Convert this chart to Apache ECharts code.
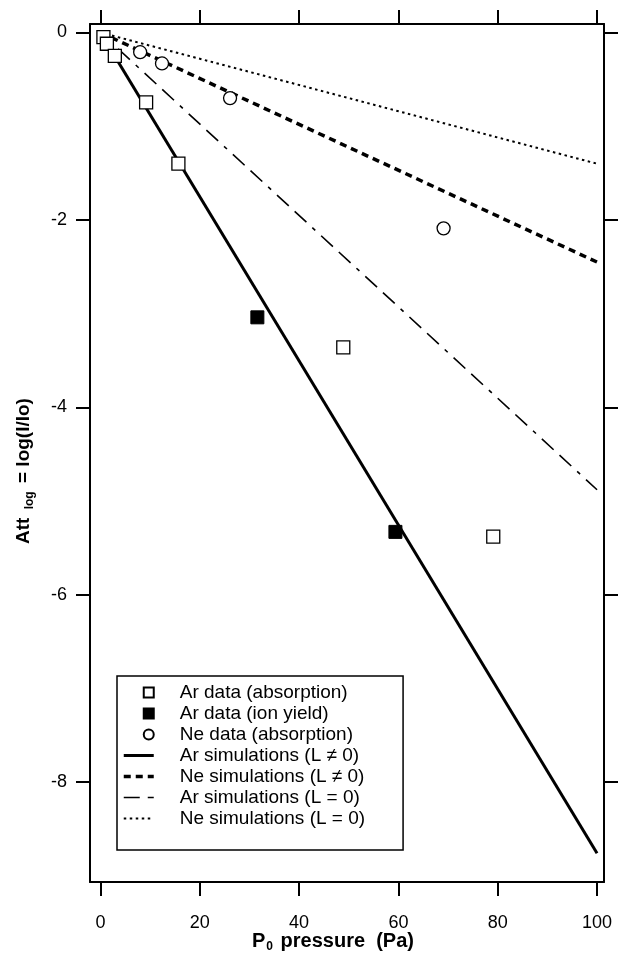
<!DOCTYPE html>
<html>
<head>
<meta charset="utf-8">
<script src="https://cdn.jsdelivr.net/npm/echarts@6/dist/echarts.min.js"></script>
<style>html,body{margin:0;padding:0;background:#fff}#c{width:621px;height:954px}</style>
</head>
<body>
<div id="c"></div>
<script>
// ---- data ----
const xTicks = [0, 20, 40, 60, 80, 100];
const yTicks = [0, -2, -4, -6, -8];

const arAbsX = [0.6, 1.3, 2.9, 9.2, 15.7, 48.9, 79.1];
const arAbsY = [-0.05, -0.12, -0.25, -0.745, -1.40, -3.36, -5.38];

const arIonX = [31.6, 59.4];
const arIonY = [-3.04, -5.33];

const neAbsX = [8.0, 12.4, 26.1, 69.1];
const neAbsY = [-0.21, -0.33, -0.70, -2.09];

const simX = [0, 100];
const arSimL = [0, -8.76];
const neSimL = [0, -2.45];
const arSim0 = [0, -4.88];
const neSim0 = [0, -1.40];

const names = [
  'Ar data (absorption)',
  'Ar data (ion yield)',
  'Ne data (absorption)',
  'Ar simulations (L \u2260 0)',
  'Ne simulations (L \u2260 0)',
  'Ar simulations (L = 0)',
  'Ne simulations (L = 0)'
];

const zip = (xs, ys) => xs.map((x, i) => [x, ys[i]]);
const FONT = 'Liberation Sans';

const chart = echarts.init(document.getElementById('c'), null, {renderer: 'canvas'});

const sqIcon = 'path://M0,5M20,0L30,0L30,10L20,10Z';
const circIcon = 'path://M0,5M20,5a5,5 0 1,0 10,0a5,5 0 1,0 -10,0Z';
const hideSym = {opacity: 0};

const axisCommon = {
  type: 'value',
  splitLine: {show: false},
  axisLine: {show: true, onZero: false, lineStyle: {color: '#000', width: 2}},
  axisTick: {show: true, inside: false, length: 14, lineStyle: {color: '#000', width: 2}},
};

chart.setOption({
  animation: false,
  backgroundColor: '#fff',
  textStyle: {fontFamily: FONT, color: '#000'},
  grid: {left: 90, right: 17, top: 24, bottom: 72, containLabel: false, outerBoundsMode: 'none'},
  legend: {
    orient: 'vertical',
    left: 117,
    top: 676,
    padding: [7, 38, 22, 5],
    itemGap: 2,
    itemWidth: 30,
    itemHeight: 10,
    borderColor: '#000',
    borderWidth: 1.5,
    backgroundColor: '#fff',
    lineStyle: {width: 'inherit'},
    textStyle: {fontFamily: FONT, fontSize: 19, color: '#000', padding: [0, 0, 0, 21], lineHeight: 18.4},
    data: [
      {name: names[0], icon: sqIcon},
      {name: names[1], icon: sqIcon},
      {name: names[2], icon: circIcon},
      {name: names[3], itemStyle: hideSym},
      {name: names[4], itemStyle: hideSym},
      {name: names[5], itemStyle: hideSym},
      {name: names[6], itemStyle: hideSym}
    ]
  },
  xAxis: [
    Object.assign({}, axisCommon, {
      position: 'bottom', min: -2.1, max: 101.4,
      axisTick: Object.assign({}, axisCommon.axisTick, {customValues: xTicks}),
      axisLabel: {customValues: xTicks, fontFamily: FONT, fontSize: 18, color: '#000', margin: 32},
      name: 'P{sub|0} pressure  (Pa)',
      nameLocation: 'middle', nameGap: 47, nameMoveOverlap: false,
      nameTextStyle: {fontFamily: FONT, fontSize: 20, fontWeight: 'bold', color: '#000', padding: [0, 28, 0, 0],
        rich: {sub: {fontFamily: FONT, fontSize: 12, fontWeight: 'bold', color: '#000', padding: [12, 2, 0, 1]}}}
    }),
    Object.assign({}, axisCommon, {
      position: 'top', min: -2.1, max: 101.4,
      axisTick: Object.assign({}, axisCommon.axisTick, {customValues: xTicks}),
      axisLabel: {show: false}
    })
  ],
  yAxis: [
    Object.assign({}, axisCommon, {
      position: 'left', min: -9.067, max: 0.091,
      axisTick: Object.assign({}, axisCommon.axisTick, {customValues: yTicks}),
      axisLabel: {customValues: yTicks, fontFamily: FONT, fontSize: 18, color: '#000', margin: 23},
      name: 'Att {sub|log} = log(I/Io)',
      nameLocation: 'middle', nameGap: 54, nameRotate: 90, nameMoveOverlap: false,
      nameTextStyle: {fontFamily: FONT, fontSize: 19, fontWeight: 'bold', color: '#000', padding: [0, 36, 0, 0],
        rich: {sub: {fontFamily: FONT, fontSize: 12, fontWeight: 'bold', color: '#000', padding: [12, 3, 0, 3]}}}
    }),
    Object.assign({}, axisCommon, {
      position: 'right', min: -9.067, max: 0.091,
      axisTick: Object.assign({}, axisCommon.axisTick, {customValues: yTicks}),
      axisLabel: {show: false}
    })
  ],
  series: [
    {
      name: names[3], type: 'line', data: zip(simX, arSimL), symbol: 'none', z: 2,
      lineStyle: {color: '#000', width: 3, type: 'solid'}, itemStyle: {color: '#000'}
    },
    {
      name: names[4], type: 'line', data: zip(simX, neSimL), symbol: 'none', z: 2,
      lineStyle: {color: '#000', width: 3.5, type: [7, 5]}, itemStyle: {color: '#000'}
    },
    {
      name: names[5], type: 'line', data: zip(simX, arSim0), symbol: 'none', z: 2,
      lineStyle: {color: '#000', width: 1.6, type: [16, 8, 16, 8, 4, 8]}, itemStyle: {color: '#000'}
    },
    {
      name: names[6], type: 'line', data: zip(simX, neSim0), symbol: 'none', z: 2,
      lineStyle: {color: '#000', width: 2, type: [2.5, 3.5]}, itemStyle: {color: '#000'}
    },
    {
      name: names[0], type: 'scatter', data: zip(arAbsX, arAbsY), symbol: 'rect', symbolSize: 13, z: 3,
      itemStyle: {color: '#fff', borderColor: '#000', borderWidth: 1.3, opacity: 1}
    },
    {
      name: names[1], type: 'scatter', data: zip(arIonX, arIonY), symbol: 'rect', symbolSize: 13, z: 3,
      itemStyle: {color: '#000', borderColor: '#000', borderWidth: 1, opacity: 1}
    },
    {
      name: names[2], type: 'scatter', data: zip(neAbsX, neAbsY), symbol: 'circle', symbolSize: 13, z: 3,
      itemStyle: {color: '#fff', borderColor: '#000', borderWidth: 1.3, opacity: 1}
    }
  ]
});
</script>
</body>
</html>
